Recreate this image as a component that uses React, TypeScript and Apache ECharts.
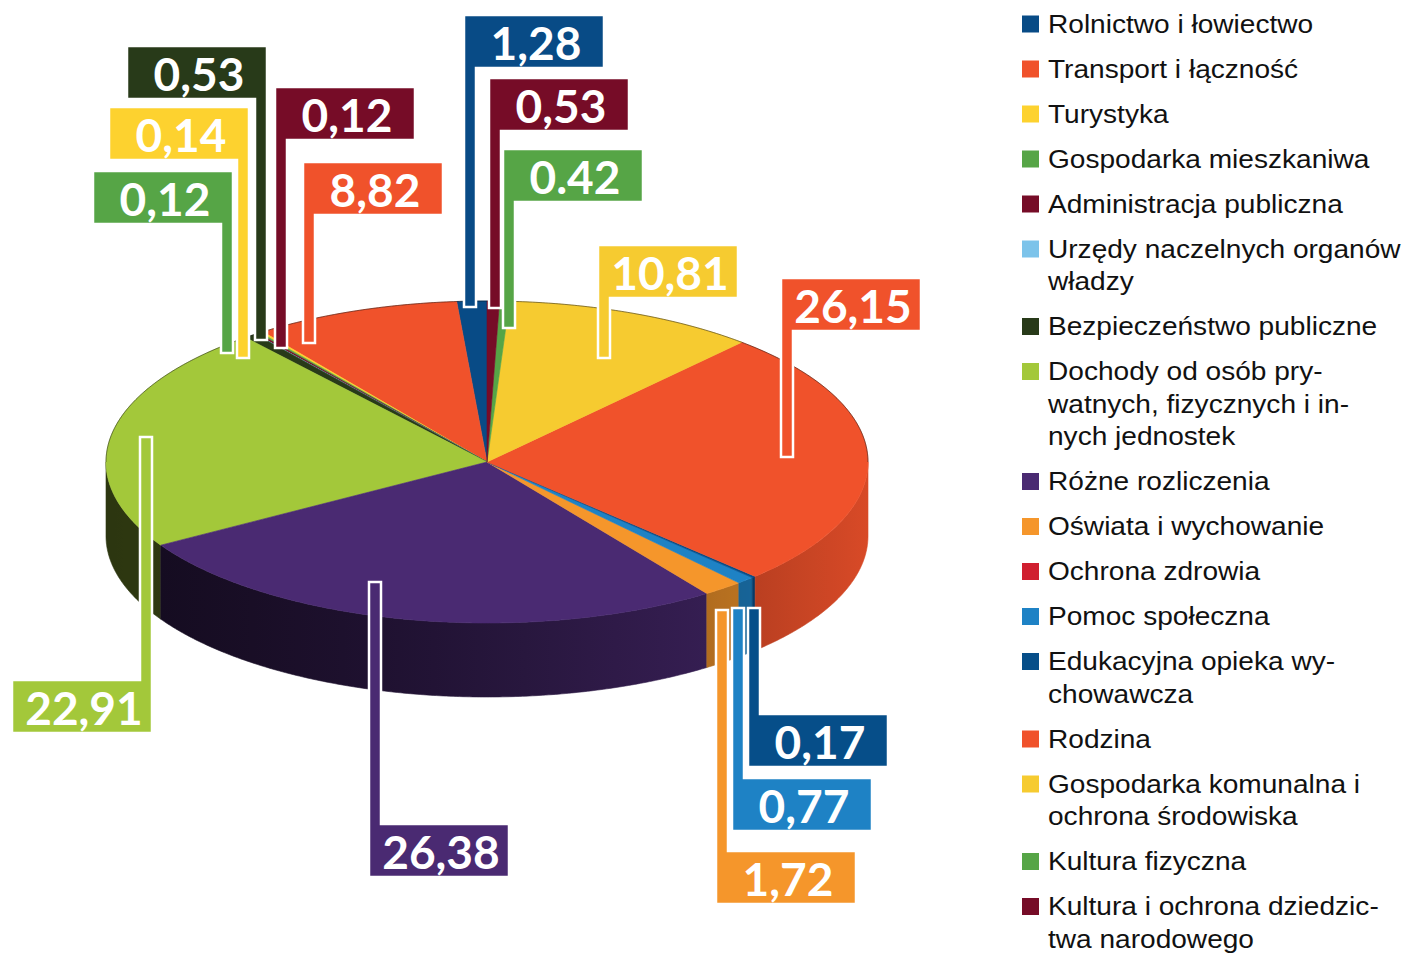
import React, { useEffect, useRef } from "react";
import * as echarts from "echarts";

const categories = [
  "Rolnictwo i łowiectwo",
  "Transport i łączność",
  "Turystyka",
  "Gospodarka mieszkaniwa",
  "Administracja publiczna",
  "Urzędy naczelnych organów\nwładzy",
  "Bezpieczeństwo publiczne",
  "Dochody od osób pry-\nwatnych, fizycznych i in-\nnych jednostek",
  "Różne rozliczenia",
  "Oświata i wychowanie",
  "Ochrona zdrowia",
  "Pomoc społeczna",
  "Edukacyjna opieka wy-\nchowawcza",
  "Rodzina",
  "Gospodarka komunalna i\nochrona środowiska",
  "Kultura fizyczna",
  "Kultura i ochrona dziedzic-\ntwa narodowego",
];

const values = [1.28, 8.82, 0.14, 0.12, 0.12, 0.02, 0.53, 22.91, 26.38, 1.72, 0, 0.77, 0.17, 26.15, 10.81, 0.42, 0.53];

const valueLabels = ["1,28", "8,82", "0,14", "0,12", "0,12", "", "0,53", "22,91", "26,38", "1,72", "", "0,77", "0,17", "26,15", "10,81", "0.42", "0,53"];

const colors = [
  "#084b86", "#f0522b", "#fdd22f", "#56a546", "#760c27", "#7cc3ea",
  "#283a19", "#a3c83a", "#4a2a72", "#f5962b", "#d01f2f", "#1e82c5",
  "#064e89", "#f0522b", "#f6cb30", "#56a546", "#760c27",
];

// label flag layout: [boxLeft, boxTop, poleSide, poleEndY] (annotation placement)
const labelLayout: (null | [number, number, "L" | "R", number])[] = [
  [464, 15, "L", 307],
  [303, 162, "L", 343],
  [109, 107, "R", 358],
  [93, 171, "R", 353],
  [275, 87, "L", 348],
  null,
  [127, 46, "R", 340],
  [12, 680, "R", 437],
  [369, 824, "L", 582],
  [716, 851, "L", 610],
  null,
  [732, 778, "L", 608],
  [748, 714, "L", 608],
  [781, 278, "L", 457],
  [598, 245, "L", 358],
  [503, 149, "L", 328],
  [489, 78, "L", 308],
];

const CX = 487, CY = 462, RX = 381, RY = 161, DEPTH = 74;
const BOX_W = 140, BOX_H = 53, POLE_W = 12;

function pt(deg: number, dy = 0): number[] {
  const r = (deg * Math.PI) / 180;
  return [CX - RX * Math.sin(r), CY - RY * Math.cos(r) + dy];
}

function hexToRgb(h: string) {
  const n = parseInt(h.slice(1), 16);
  return [(n >> 16) & 255, (n >> 8) & 255, n & 255];
}
function shade(h: string, f: number) {
  const [r, g, b] = hexToRgb(h);
  return `rgb(${Math.round(r * f)},${Math.round(g * f)},${Math.round(b * f)})`;
}
function shadeAt(x: number) {
  const t = Math.min(1, Math.max(0, (x - (CX - RX)) / (2 * RX)));
  return 0.27 + 0.63 * Math.pow(t, 1.4);
}

export default function App() {
  const ref = useRef<HTMLDivElement>(null);
  useEffect(() => {
    document.body.style.margin = "0";
    document.body.style.overflow = "hidden";
    if (!ref.current) return;
    const chart = echarts.init(ref.current, undefined, { renderer: "svg" });

    const total = values.reduce((a, b) => a + b, 0);
    const starts: number[] = [];
    let acc = 0;
    values.forEach((v) => {
      starts.push((acc / total) * 360);
      acc += v;
    });

    const arc = (a0: number, a1: number, dy = 0) => {
      const pts: number[][] = [];
      const n = Math.max(1, Math.ceil((a1 - a0) / 0.5));
      for (let k = 0; k <= n; k++) pts.push(pt(a0 + ((a1 - a0) * k) / n, dy));
      return pts;
    };

    const pieRender = (params: any, api: any) => {
      const i = params.dataIndex;
      const v = api.value(0);
      if (!v) return { type: "group", children: [] };
      const a0 = starts[i];
      const a1 = a0 + (v / total) * 360;
      const color = colors[i];
      const children: any[] = [];
      const w0 = Math.max(a0, 90), w1 = Math.min(a1, 270);
      if (w1 > w0) {
        const top = arc(w0, w1);
        const bottom = arc(w0, w1, DEPTH).reverse();
        const xa = Math.min(top[0][0], top[top.length - 1][0]);
        const xb = Math.max(top[0][0], top[top.length - 1][0]);
        const stops = [];
        for (let k = 0; k <= 6; k++) {
          const x = xa + ((xb - xa) * k) / 6;
          stops.push({ offset: k / 6, color: shade(color, shadeAt(x)) });
        }
        const grad = new echarts.graphic.LinearGradient(xa, 0, xb === xa ? xa + 1 : xb, 0, stops, true);
        children.push({
          type: "polygon",
          z2: 1,
          shape: { points: top.concat(bottom) },
          style: { fill: grad, stroke: grad, lineWidth: 0.6 },
        });
      }
      children.push({
        type: "polygon",
        z2: 2,
        shape: { points: [[CX, CY]].concat(arc(a0, a1)) },
        style: { fill: color, stroke: color, lineWidth: 0.6 },
      });
      const segs: number[][] = [];
      if (a0 < 90) segs.push([a0, Math.min(a1, 90)]);
      if (a1 > 270) segs.push([Math.max(a0, 270), a1]);
      segs.forEach(([s, e]) => {
        if (e > s)
          children.push({
            type: "polyline",
            z2: 3,
            shape: { points: arc(s, e) },
            style: { stroke: "rgba(0,0,0,0.45)", lineWidth: 1, fill: null },
          });
      });
      return { type: "group", children };
    };

    const labelRender = (params: any, api: any) => {
      const i = params.dataIndex;
      const lay = labelLayout[i];
      if (!lay || !valueLabels[i]) return { type: "group", children: [] };
      const [bx, by, side, end] = lay;
      const W = BOX_W, H = BOX_H, P = POLE_W;
      let pts: number[][];
      const down = end > by + H;
      if (side === "L" && down)
        pts = [[bx, by], [bx + W, by], [bx + W, by + H], [bx + P, by + H], [bx + P, end], [bx, end]];
      else if (side === "R" && down)
        pts = [[bx, by], [bx + W, by], [bx + W, end], [bx + W - P, end], [bx + W - P, by + H], [bx, by + H]];
      else if (side === "L")
        pts = [[bx, end], [bx + P, end], [bx + P, by], [bx + W, by], [bx + W, by + H], [bx, by + H]];
      else
        pts = [[bx, by], [bx + W - P, by], [bx + W - P, end], [bx + W, end], [bx + W, by + H], [bx, by + H]];
      return {
        type: "group",
        children: [
          {
            type: "polygon",
            z2: 10 + i,
            shape: { points: pts },
            style: { fill: colors[i], stroke: "#ffffff", lineWidth: 2.5, lineJoin: "miter" },
          },
          {
            type: "text",
            z2: 40 + i,
            style: {
              text: valueLabels[i],
              x: bx + W / 2 + 2,
              y: by + H / 2 + 1,
              align: "center",
              verticalAlign: "middle",
              fill: "#ffffff",
              font: "bold 46px Lato, sans-serif",
            },
          },
        ],
      };
    };

    const legendEls: any[] = [];
    let yc = 24;
    categories.forEach((name, i) => {
      const lines = name.split("\n").length;
      legendEls.push({
        type: "rect",
        shape: { x: 1022, y: yc - 8.5, width: 17, height: 17 },
        style: { fill: colors[i] },
      });
      legendEls.push({
        type: "text",
        x: 1048,
        y: yc - 16.25,
        scaleX: 1.08,
        style: {
          text: name,
          fill: "#111111",
          font: "26px Liberation Sans, Arial, sans-serif",
          lineHeight: 32.5,
          verticalAlign: "top",
          align: "left",
        },
      });
      yc += 45 + (lines - 1) * 32.5;
    });

    const data = values.map((v, i) => ({ name: categories[i].replace(/-\n/g, "").replace(/\n/g, " "), value: v }));

    chart.setOption({
      animation: false,
      backgroundColor: "#ffffff",
      graphic: legendEls,
      series: [
        {
          type: "custom",
          coordinateSystem: "none",
          renderItem: pieRender,
          data,
          z: 2,
        },
        {
          type: "custom",
          coordinateSystem: "none",
          renderItem: labelRender,
          data,
          z: 5,
        },
      ],
    });
    return () => chart.dispose();
  }, []);
  return <div ref={ref} style={{ width: 1404, height: 953 }} />;
}
